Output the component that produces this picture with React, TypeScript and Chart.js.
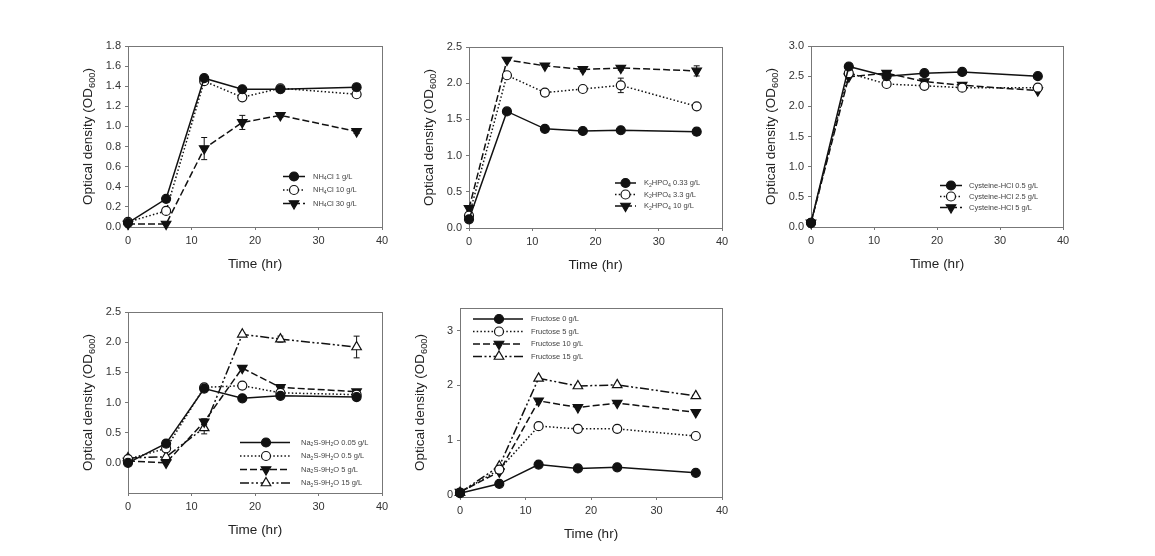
import React, { useEffect, useRef } from 'react';
import { Chart, registerables } from 'chart.js';
Chart.register(...registerables);

const FONT = '"Liberation Sans", Arial, sans-serif';
Chart.defaults.font.family = FONT;

// ---------- data ----------
const TIME = [0, 6, 12, 18, 24, 36];
const X_TICKS = [0, 10, 20, 30, 40];

// Panel 1: NH4Cl
const nh4Labels = ['NH_{4}Cl 1 g/L', 'NH_{4}Cl 10 g/L', 'NH_{4}Cl 30 g/L'];
const nh4Cl1 = [0.04, 0.28, 1.48, 1.37, 1.37, 1.39];
const nh4Cl10 = [0.05, 0.16, 1.45, 1.29, 1.38, 1.32];
const nh4Cl30 = [0.03, 0.03, 0.78, 1.04, 1.11, 0.95];
const nh4Cl1Err = [0, 0, 0, 0, 0, 0];
const nh4Cl10Err = [0, 0, 0, 0, 0.02, 0.03];
const nh4Cl30Err = [0, 0, 0.11, 0.07, 0.02, 0.02];
const nh4Ticks = [0, 0.2, 0.4, 0.6, 0.8, 1.0, 1.2, 1.4, 1.6, 1.8];

// Panel 2: K2HPO4
const k2Labels = ['K_{2}HPO_{4} 0.33 g/L', 'K_{2}HPO_{4} 3.3 g/L', 'K_{2}HPO_{4} 10 g/L'];
const k2hpo4_033 = [0.12, 1.61, 1.37, 1.34, 1.35, 1.33];
const k2hpo4_33 = [0.17, 2.11, 1.87, 1.92, 1.97, 1.68];
const k2hpo4_10 = [0.27, 2.32, 2.24, 2.19, 2.21, 2.17];
const k2hpo4_033Err = [0, 0, 0.04, 0.02, 0.02, 0.05];
const k2hpo4_33Err = [0, 0, 0, 0.02, 0.1, 0.02];
const k2hpo4_10Err = [0.02, 0, 0, 0.03, 0.03, 0.07];
const k2Ticks = [0, 0.5, 1.0, 1.5, 2.0, 2.5];

// Panel 3: Cysteine-HCl
const cysLabels = ['Cysteine-HCl 0.5 g/L', 'Cysteine-HCl 2.5 g/L', 'Cysteine-HCl 5 g/L'];
const cys05 = [0.07, 2.66, 2.5, 2.55, 2.57, 2.5];
const cys25 = [0.07, 2.55, 2.37, 2.34, 2.31, 2.31];
const cys5 = [0.07, 2.49, 2.55, 2.41, 2.35, 2.26];
const cysErr = [0, 0, 0, 0, 0, 0];
const cysTicks = [0, 0.5, 1.0, 1.5, 2.0, 2.5, 3.0];

// Panel 4: Na2S-9H2O
const naLabels = ['Na_{2}S-9H_{2}O 0.05 g/L', 'Na_{2}S-9H_{2}O 0.5 g/L', 'Na_{2}S-9H_{2}O 5 g/L', 'Na_{2}S-9H_{2}O 15 g/L'];
const na005 = [0.0, 0.32, 1.23, 1.07, 1.11, 1.09];
const na05 = [0.06, 0.24, 1.25, 1.28, 1.16, 1.13];
const na5 = [0.03, 0.0, 0.68, 1.57, 1.25, 1.18];
const na15 = [0.08, 0.1, 0.58, 2.13, 2.05, 1.92];
const na005Err = [0, 0, 0, 0, 0, 0];
const na05Err = [0, 0, 0, 0, 0, 0];
const na5Err = [0, 0, 0.05, 0, 0.03, 0.03];
const na15Err = [0, 0, 0.1, 0.02, 0.05, 0.18];
const naTicks = [0, 0.5, 1.0, 1.5, 2.0, 2.5];

// Panel 5: Fructose
const fruLabels = ['Fructose 0 g/L', 'Fructose 5 g/L', 'Fructose 10 g/L', 'Fructose 15 g/L'];
const fru0 = [0.04, 0.21, 0.56, 0.49, 0.51, 0.41];
const fru5 = [0.05, 0.47, 1.26, 1.21, 1.21, 1.08];
const fru10 = [0.06, 0.43, 1.72, 1.6, 1.68, 1.51];
const fru15 = [0.05, 0.53, 2.13, 1.99, 2.01, 1.81];
const fruErr = [0, 0, 0, 0, 0, 0];
const fruTicks = [0, 1, 2, 3];

// ---------- styles ----------
type Marker = { style: 'circle' | 'triangle'; rot: number; filled: boolean; r: number };
const DASHES: number[][] = [[], [1.5, 2.2], [7, 3], [9, 2.5, 2, 2.5, 2, 2.5]];
const MARKERS: Marker[] = [
  { style: 'circle', rot: 0, filled: true, r: 4.5 },
  { style: 'circle', rot: 0, filled: false, r: 4.5 },
  { style: 'triangle', rot: 180, filled: true, r: 5.5 },
  { style: 'triangle', rot: 0, filled: false, r: 5.5 },
];
const LINE_COLOR = '#111';
const FRAME_COLOR = '#777';
const TEXT_COLOR = '#333';

type PanelCfg = {
  plot: { l: number; r: number; t: number; b: number };
  yMin: number;
  yMax: number;
  yTicks: number[];
  decimals: number;
  series: number[][];
  errors: number[][];
  labels: string[];
  legend: { x1: number; x2: number; mx: number; tx: number; rows: number[] };
};

const PANELS: PanelCfg[] = [
  {
    plot: { l: 128, r: 382, t: 46, b: 227 },
    yMin: 0, yMax: 1.8, yTicks: nh4Ticks, decimals: 1,
    series: [nh4Cl1, nh4Cl10, nh4Cl30],
    errors: [nh4Cl1Err, nh4Cl10Err, nh4Cl30Err],
    labels: nh4Labels,
    legend: { x1: 283, x2: 305, mx: 294, tx: 313, rows: [176.5, 190, 203.5] },
  },
  {
    plot: { l: 469, r: 722, t: 47, b: 228 },
    yMin: 0, yMax: 2.5, yTicks: k2Ticks, decimals: 1,
    series: [k2hpo4_033, k2hpo4_33, k2hpo4_10],
    errors: [k2hpo4_033Err, k2hpo4_33Err, k2hpo4_10Err],
    labels: k2Labels,
    legend: { x1: 615, x2: 636, mx: 625.5, tx: 644, rows: [183, 194.5, 206] },
  },
  {
    plot: { l: 811, r: 1063, t: 46, b: 227 },
    yMin: 0, yMax: 3.0, yTicks: cysTicks, decimals: 1,
    series: [cys05, cys25, cys5],
    errors: [cysErr, cysErr, cysErr],
    labels: cysLabels,
    legend: { x1: 940, x2: 962, mx: 951, tx: 969, rows: [185.5, 196.5, 207.5] },
  },
  {
    plot: { l: 128, r: 382, t: 312, b: 493 },
    yMin: -0.5, yMax: 2.5, yTicks: naTicks, decimals: 1,
    series: [na005, na05, na5, na15],
    errors: [na005Err, na05Err, na5Err, na15Err],
    labels: naLabels,
    legend: { x1: 240, x2: 290, mx: 266, tx: 301, rows: [442.5, 456, 469.5, 483] },
  },
  {
    plot: { l: 460, r: 722, t: 308, b: 497 },
    yMin: -0.03, yMax: 3.41, yTicks: fruTicks, decimals: 0,
    series: [fru0, fru5, fru10, fru15],
    errors: [fruErr, fruErr, fruErr, fruErr],
    labels: fruLabels,
    legend: { x1: 473, x2: 523, mx: 499, tx: 531, rows: [319, 331.5, 344, 356.5] },
  },
];

const Y_W = 48; // y-axis box width
const X_H = 45; // x-axis box height
const PAD_T = 12;
const PAD_R = 20;

// ---------- helpers ----------
function parseRich(text: string) {
  const parts: { t: string; sub: boolean }[] = [];
  const re = /_\{([^}]*)\}/g;
  let last = 0;
  let m: RegExpExecArray | null;
  while ((m = re.exec(text))) {
    if (m.index > last) parts.push({ t: text.slice(last, m.index), sub: false });
    parts.push({ t: m[1], sub: true });
    last = m.index + m[0].length;
  }
  if (last < text.length) parts.push({ t: text.slice(last), sub: false });
  return parts;
}

function drawRich(ctx: CanvasRenderingContext2D, text: string, x: number, y: number, size: number, color: string, align: 'left' | 'center') {
  const parts = parseRich(text);
  const main = `${size}px ${FONT}`;
  const sub = `${size * 0.68}px ${FONT}`;
  let w = 0;
  for (const p of parts) {
    ctx.font = p.sub ? sub : main;
    w += ctx.measureText(p.t).width;
  }
  let cx = align === 'center' ? x - w / 2 : x;
  ctx.fillStyle = color;
  ctx.textBaseline = 'middle';
  ctx.textAlign = 'left';
  for (const p of parts) {
    ctx.font = p.sub ? sub : main;
    ctx.fillText(p.t, cx, p.sub ? y + size * 0.3 : y);
    cx += ctx.measureText(p.t).width;
  }
}

function drawMarker(ctx: CanvasRenderingContext2D, mk: Marker, x: number, y: number) {
  ctx.save();
  ctx.setLineDash([]);
  ctx.lineWidth = 1.2;
  ctx.strokeStyle = LINE_COLOR;
  ctx.fillStyle = mk.filled ? LINE_COLOR : '#fff';
  ctx.beginPath();
  if (mk.style === 'circle') {
    ctx.arc(x, y, mk.r, 0, Math.PI * 2);
  } else {
    let rad = (mk.rot * Math.PI) / 180;
    for (let k = 0; k < 3; k++) {
      const px = x + Math.sin(rad) * mk.r;
      const py = y - Math.cos(rad) * mk.r;
      if (k === 0) ctx.moveTo(px, py); else ctx.lineTo(px, py);
      rad += (2 * Math.PI) / 3;
    }
    ctx.closePath();
  }
  ctx.fill();
  ctx.stroke();
  ctx.restore();
}

function Panel({ cfg }: { cfg: PanelCfg }) {
  const ref = useRef<HTMLCanvasElement>(null);
  const plotW = cfg.plot.r - cfg.plot.l;
  const plotH = cfg.plot.b - cfg.plot.t;
  const left = cfg.plot.l - Y_W;
  const top = cfg.plot.t - PAD_T;
  const width = Y_W + plotW + PAD_R;
  const height = PAD_T + plotH + X_H;

  useEffect(() => {
    if (!ref.current) return;
    const framePlugin = {
      id: 'frame',
      beforeDatasetsDraw(chart: any) {
        const { ctx, chartArea: a } = chart;
        ctx.save();
        ctx.strokeStyle = FRAME_COLOR;
        ctx.lineWidth = 1;
        ctx.strokeRect(a.left + 0.5, a.top + 0.5, a.right - a.left, a.bottom - a.top);
        // error bars
        const xs = chart.scales.x;
        const ys = chart.scales.y;
        ctx.strokeStyle = LINE_COLOR;
        ctx.lineWidth = 1;
        cfg.errors.forEach((errs, i) => {
          errs.forEach((e, j) => {
            if (!e) return;
            const v = cfg.series[i][j];
            const px = xs.getPixelForValue(TIME[j]);
            const y1 = ys.getPixelForValue(v + e);
            const y2 = ys.getPixelForValue(v - e);
            ctx.beginPath();
            ctx.moveTo(px, y1); ctx.lineTo(px, y2);
            ctx.moveTo(px - 3, y1); ctx.lineTo(px + 3, y1);
            ctx.moveTo(px - 3, y2); ctx.lineTo(px + 3, y2);
            ctx.stroke();
          });
        });
        ctx.restore();
      },
      afterDraw(chart: any) {
        const { ctx, chartArea: a } = chart;
        // y title with subscript
        ctx.save();
        ctx.translate(a.left - 40, (a.top + a.bottom) / 2);
        ctx.rotate(-Math.PI / 2);
        drawRich(ctx, 'Optical density (OD_{600})', 0, 0, 13.5, '#222', 'center');
        ctx.restore();
        // legend
        const lg = cfg.legend;
        cfg.labels.forEach((lab, i) => {
          const y = lg.rows[i] - top;
          ctx.save();
          ctx.strokeStyle = LINE_COLOR;
          ctx.lineWidth = 1.5;
          ctx.setLineDash(DASHES[i]);
          ctx.beginPath();
          ctx.moveTo(lg.x1 - left, y);
          ctx.lineTo(lg.x2 - left, y);
          ctx.stroke();
          ctx.restore();
          drawMarker(ctx, MARKERS[i], lg.mx - left, y);
          drawRich(ctx, lab, lg.tx - left, y, 7.5, '#444', 'left');
        });
      },
    };

    const chart = new Chart(ref.current, {
      type: 'line',
      data: {
        datasets: cfg.series.map((vals, i) => ({
          label: cfg.labels[i],
          data: TIME.map((t, j) => ({ x: t, y: vals[j] })),
          borderColor: LINE_COLOR,
          borderWidth: 1.5,
          borderDash: DASHES[i],
          pointStyle: MARKERS[i].style,
          pointRotation: MARKERS[i].rot,
          pointRadius: MARKERS[i].r,
          pointBackgroundColor: MARKERS[i].filled ? LINE_COLOR : '#fff',
          pointBorderColor: LINE_COLOR,
          pointBorderWidth: 1.2,
          tension: 0,
          clip: false as any,
        })),
      },
      options: {
        responsive: false,
        animation: false,
        layout: { padding: { top: PAD_T, right: PAD_R, left: 0, bottom: 0 } },
        plugins: { legend: { display: false }, tooltip: { enabled: false } },
        scales: {
          x: {
            type: 'linear',
            min: 0,
            max: 40,
            afterFit: (s: any) => { s.height = X_H; },
            afterBuildTicks: (s: any) => { s.ticks = X_TICKS.map((v) => ({ value: v })); },
            ticks: { color: TEXT_COLOR, font: { size: 11 }, padding: 4, maxRotation: 0, callback: (v: any) => String(v) },
            grid: { drawOnChartArea: false, tickLength: 3, color: FRAME_COLOR },
            border: { color: FRAME_COLOR },
            title: { display: true, text: 'Time (hr)', color: '#222', font: { size: 13.5 }, padding: { top: 0, bottom: 0 } },
          },
          y: {
            type: 'linear',
            min: cfg.yMin,
            max: cfg.yMax,
            afterFit: (s: any) => { s.width = Y_W; },
            afterBuildTicks: (s: any) => { s.ticks = cfg.yTicks.map((v) => ({ value: v })); },
            ticks: { color: TEXT_COLOR, font: { size: 11 }, padding: 4, callback: (v: any) => Number(v).toFixed(cfg.decimals) },
            grid: { drawOnChartArea: false, tickLength: 3, color: FRAME_COLOR },
            border: { color: FRAME_COLOR },
          },
        },
      } as any,
      plugins: [framePlugin],
    });
    return () => chart.destroy();
  }, []);

  return (
    <canvas
      ref={ref}
      width={width}
      height={height}
      style={{ position: 'absolute', left, top, width, height }}
    />
  );
}

export default function App() {
  return (
    <div style={{ position: 'absolute', left: 0, top: 0, width: 1155, height: 556, background: '#fff', overflow: 'hidden' }}>
      {PANELS.map((p, i) => (
        <Panel key={i} cfg={p} />
      ))}
    </div>
  );
}
